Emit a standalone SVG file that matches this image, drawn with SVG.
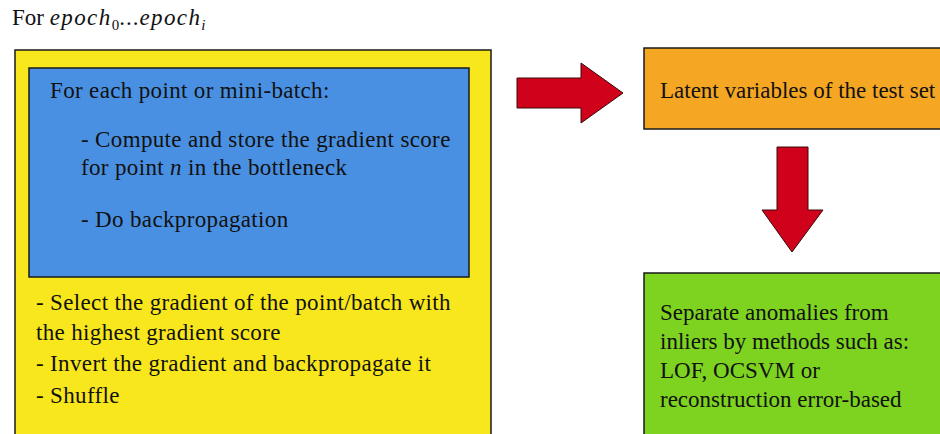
<svg xmlns="http://www.w3.org/2000/svg" width="940" height="434" viewBox="0 0 940 434">
  <style>
    .box { stroke: #1a1a1a; stroke-width: 1.5; }
    .arrow { fill: #D0021B; stroke: #3a0a0a; stroke-width: 1; }
    text { font-family: "Liberation Serif", "DejaVu Serif", serif; fill: #111; font-size: 23px; }
    .wide { letter-spacing: 0.35px; }
    .math { font-style: italic; }
    .title-math { font-style: italic; letter-spacing: 1.4px; }
  </style>
  <rect width="940" height="434" fill="#ffffff"/>

  <text id="title" x="12" y="25" font-size="22">For <tspan class="title-math">epoch</tspan><tspan font-size="15" dy="5">0</tspan><tspan dy="-5" letter-spacing="1">...</tspan><tspan class="title-math">epoch</tspan><tspan class="math" font-size="15" dy="5">i</tspan></text>

  <g id="loop">
    <rect class="box" x="15" y="50" width="476" height="400" fill="#F8E71C"/>
    <text class="wide" x="36" y="310">- Select the gradient of the point/batch with</text>
    <text class="wide" x="36" y="340">the highest gradient score</text>
    <text class="wide" x="36" y="371">- Invert the gradient and backpropagate it</text>
    <text class="wide" x="36" y="403">- Shuffle</text>
  </g>

  <g id="inner">
    <rect class="box" x="29" y="68" width="440" height="209" fill="#4A90E2"/>
    <text class="wide" x="50" y="98">For each point or mini-batch:</text>
    <text class="wide" x="81" y="147">- Compute and store the gradient score</text>
    <text class="wide" x="81" y="175">for point <tspan class="math">n</tspan> in the bottleneck</text>
    <text class="wide" x="81" y="227">- Do backpropagation</text>
  </g>

  <g id="latent">
    <rect class="box" x="644" y="48" width="310" height="81" fill="#F5A623"/>
    <text x="660" y="98">Latent variables of the test set</text>
  </g>

  <g id="separate">
    <rect class="box" x="644" y="273" width="310" height="180" fill="#7ED321"/>
    <text x="660" y="320">Separate anomalies from</text>
    <text x="660" y="349">inliers by methods such as:</text>
    <text x="660" y="378">LOF, OCSVM or</text>
    <text x="660" y="407">reconstruction error-based</text>
  </g>

  <g id="connectors">
    <polygon class="arrow" points="517,78 581,78 581,63 623,93 581,123 581,108 517,108"/>
    <polygon class="arrow" points="777,147 808,147 808,210 823,210 792,252 762,210 777,210"/>
  </g>
</svg>
